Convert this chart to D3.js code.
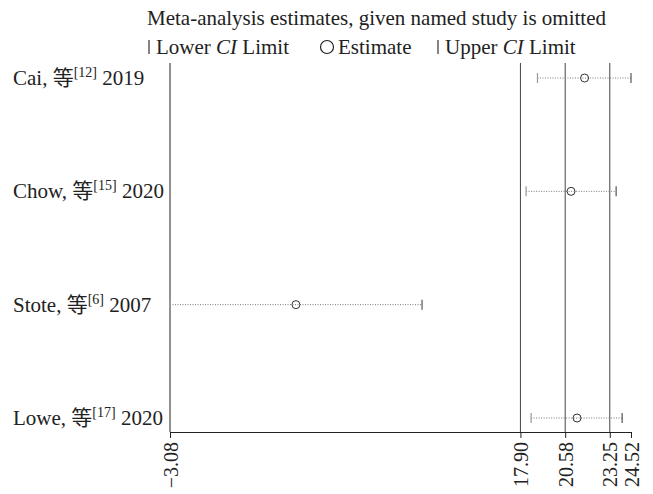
<!DOCTYPE html>
<html>
<head>
<meta charset="utf-8">
<script src="https://cdn.jsdelivr.net/npm/d3@7"></script>
<style>
	body { margin: 0; background: #fff; }
	text { font-family: "Liberation Serif", "Noto Sans CJK SC", serif; fill: #222; }
</style>
</head>
<body>
<svg id="chart" width="653" height="494"></svg>
<script>
var studies = ["Cai", "Chow", "Stote", "Lowe"];
var refs = ["[12]", "[15]", "[6]", "[17]"];
var years = ["2019", "2020", "2007", "2020"];
var lower = [18.92, 18.24, -3.08, 18.54];
var estimate = [21.74, 20.93, 4.46, 21.29];
var upper = [24.52, 23.63, 12.01, 23.99];
var refLines = [17.90, 20.58, 23.25];
var tickValues = [-3.08, 17.90, 20.58, 23.25, 24.52];

var svg = d3.select("#chart");

var x = d3.scaleLinear()
	.domain([-3.08, 24.52])
	.range([170, 631]);

var y = d3.scalePoint()
	.domain(studies)
	.range([78, 418]);

var yTop = 63, yBottom = 432;

/* title and legend */
svg.append("text")
	.attr("x", 147)
	.attr("y", 25)
	.style("font-size", "21px")
	.text("Meta-analysis estimates, given named study is omitted");

var legendBar = function(xPos) {
	svg.append("line")
		.attr("x1", xPos).attr("x2", xPos)
		.attr("y1", 40).attr("y2", 54)
		.attr("stroke", "#333")
		.attr("stroke-width", 1.2);
};

legendBar(149);
var leg1 = svg.append("text")
	.attr("x", 156)
	.attr("y", 54)
	.style("font-size", "21px");
leg1.append("tspan").text("Lower ");
leg1.append("tspan").style("font-style", "italic").text("CI");
leg1.append("tspan").text(" Limit");

svg.append("circle")
	.attr("cx", 327)
	.attr("cy", 47)
	.attr("r", 6.5)
	.attr("fill", "none")
	.attr("stroke", "#222")
	.attr("stroke-width", 1.2);

svg.append("text")
	.attr("x", 338)
	.attr("y", 54)
	.style("font-size", "21px")
	.text("Estimate");

legendBar(438);
var leg2 = svg.append("text")
	.attr("x", 445)
	.attr("y", 54)
	.style("font-size", "21px");
leg2.append("tspan").text("Upper ");
leg2.append("tspan").style("font-style", "italic").text("CI");
leg2.append("tspan").text(" Limit");

/* reference lines */
svg.selectAll(".ref")
	.data(refLines)
	.enter()
	.append("line")
	.attr("x1", function(d) { return x(d); })
	.attr("x2", function(d) { return x(d); })
	.attr("y1", yTop)
	.attr("y2", yBottom)
	.attr("stroke", "#444")
	.attr("stroke-width", 1);

/* left axis line */
svg.append("line")
	.attr("x1", x(-3.08)).attr("x2", x(-3.08))
	.attr("y1", yTop).attr("y2", yBottom)
	.attr("stroke", "#222");

/* bottom axis */
var xAxis = d3.axisBottom(x)
	.tickValues(tickValues)
	.tickSize(6)
	.tickSizeOuter(0)
	.tickFormat(d3.format(".2f"));

var gx = svg.append("g")
	.attr("transform", "translate(0," + yBottom + ")")
	.call(xAxis);
gx.select(".domain").attr("stroke", "#222");
gx.selectAll(".tick line").attr("stroke", "#222");
gx.selectAll(".tick text")
	.attr("transform", "rotate(-90)")
	.attr("x", -10)
	.attr("y", 0)
	.attr("dy", "0.35em")
	.attr("text-anchor", "end")
	.style("font-size", "20px")
	.style("font-family", "'Liberation Serif', serif")
	.attr("fill", "#222")
	.text(function(d) { return d3.format(".2f")(d).replace("-", "\u2212"); });

/* study rows */
var rows = svg.selectAll(".row")
	.data(studies)
	.enter()
	.append("g")
	.attr("class", "row");

rows.append("line")
	.attr("x1", function(d, i) { return x(lower[i]); })
	.attr("x2", function(d, i) { return x(upper[i]); })
	.attr("y1", function(d) { return y(d); })
	.attr("y2", function(d) { return y(d); })
	.attr("stroke", "#777")
	.attr("stroke-width", 1)
	.attr("stroke-dasharray", "1,1.5");

rows.append("line")
	.attr("x1", function(d, i) { return x(lower[i]); })
	.attr("x2", function(d, i) { return x(lower[i]); })
	.attr("y1", function(d) { return y(d) - 5; })
	.attr("y2", function(d) { return y(d) + 5; })
	.attr("stroke", "#999")
	.attr("stroke-width", 1.2);

rows.append("line")
	.attr("x1", function(d, i) { return x(upper[i]); })
	.attr("x2", function(d, i) { return x(upper[i]); })
	.attr("y1", function(d) { return y(d) - 5; })
	.attr("y2", function(d) { return y(d) + 5; })
	.attr("stroke", "#555")
	.attr("stroke-width", 1.2);

rows.append("circle")
	.attr("cx", function(d, i) { return x(estimate[i]); })
	.attr("cy", function(d) { return y(d); })
	.attr("r", 4)
	.attr("fill", "none")
	.attr("stroke", "#333")
	.attr("stroke-width", 1);

var labels = rows.append("text")
	.attr("x", 13)
	.attr("y", function(d) { return y(d) + 7; })
	.style("font-size", "21px");
labels.append("tspan").text(function(d) { return d + ", \u7b49"; });
labels.append("tspan")
	.style("font-size", "14px")
	.attr("dy", -8)
	.text(function(d, i) { return refs[i]; });
labels.append("tspan")
	.attr("dy", 8)
	.text(function(d, i) { return " " + years[i]; });
</script>
</body>
</html>
